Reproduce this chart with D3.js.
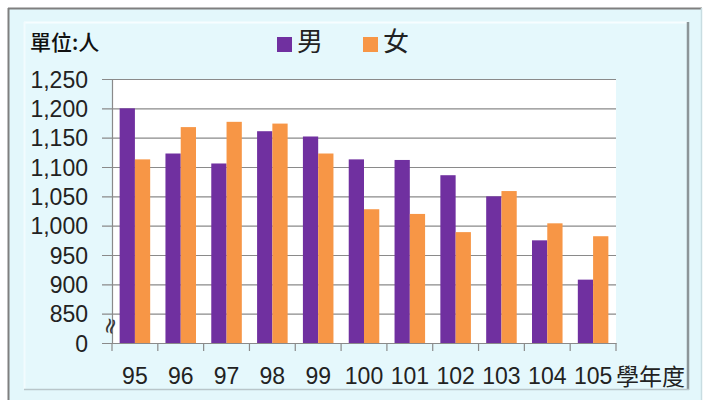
<!DOCTYPE html>
<html><head><meta charset="utf-8">
<script src="https://cdn.jsdelivr.net/npm/d3@7"></script>
<style>
html,body{margin:0;padding:0;background:#fff;}
svg{display:block;}
</style></head>
<body>
<script>
const years = ["95","96","97","98","99","100","101","102","103","104","105"];
const male   = [1200,1123,1106,1161,1152,1113,1112,1086,1050,975,908];
const female = [1113,1168,1177,1174,1123,1028,1020,989,1059,1004,982];
const seriesNames = ["男","女"];
const seriesColors = ["#7030a0","#f79646"];
const yTickValues = [800,850,900,950,1000,1050,1100,1150,1200,1250];
const yTickLabels = ["0","850","900","950","1,000","1,050","1,100","1,150","1,200","1,250"];
const unitLabel = "單位:人";
const xTitle = "學年度";

const W = 706, H = 400;
const svg = d3.select("body").append("svg").attr("width", W).attr("height", H);

// frames
svg.append("rect").attr("x",8).attr("y",8).attr("width",694).attr("height",400).attr("fill","#e3f7fb");
svg.append("line").attr("x1",8).attr("x2",702).attr("y1",8.5).attr("y2",8.5).attr("stroke","#7f7f7f").attr("stroke-width",2);
svg.append("line").attr("x1",8.5).attr("x2",8.5).attr("y1",8).attr("y2",400).attr("stroke","#7f7f7f").attr("stroke-width",2);
svg.append("line").attr("x1",701.5).attr("x2",701.5).attr("y1",8).attr("y2",400).attr("stroke","#c8dde2").attr("stroke-width",1.5);
svg.append("rect").attr("x",24).attr("y",22).attr("width",664).attr("height",367).attr("fill","#e5f8fc");
svg.append("line").attr("x1",24).attr("x2",688).attr("y1",22.5).attr("y2",22.5).attr("stroke","#f7fdff").attr("stroke-width",2);
svg.append("line").attr("x1",24.5).attr("x2",24.5).attr("y1",22).attr("y2",389).attr("stroke","#f2fbfe").attr("stroke-width",2);
svg.append("line").attr("x1",688).attr("x2",688).attr("y1",22).attr("y2",390).attr("stroke","#8c9598").attr("stroke-width",2.5);
svg.append("line").attr("x1",24).attr("x2",689).attr("y1",389.5).attr("y2",389.5).attr("stroke","#b9c6ca").attr("stroke-width",1.5);

const L = 112, R = 616, T = 79, B = 343;
const x0 = d3.scaleBand().domain(years).range([L, R]).padding(0);
const x1 = d3.scaleBand().domain(seriesNames).range([0, x0.bandwidth()]).paddingInner(0).paddingOuter(0.5);
const y = d3.scaleLinear().domain([800, 1250]).range([B, T]);

// plot area
svg.append("rect").attr("x",L).attr("y",T).attr("width",R-L).attr("height",B-T).attr("fill","#ffffff");

// gridlines + y axis
const yAxis = d3.axisLeft(y).tickValues(yTickValues)
  .tickFormat((d,i)=>yTickLabels[i]).tickSize(-(R-L)).tickSizeOuter(0);
const gy = svg.append("g").attr("transform",`translate(${L},0)`).call(yAxis);
gy.select(".domain").attr("stroke","#8a8a8a").attr("stroke-width",1.2);
gy.selectAll(".tick line").attr("stroke","#8a8a8a").attr("stroke-width",1.2).attr("x1",-10);
gy.selectAll(".tick text").attr("font-family","'Liberation Sans', Arial, sans-serif").attr("font-size",23).attr("fill","#222").attr("x",-24).attr("dy","0.36em");

// bars
const data = years.map((yr,i)=>({yr, vals:[male[i], female[i]]}));
const groups = svg.append("g").selectAll("g").data(data).join("g")
  .attr("transform", d=>`translate(${x0(d.yr)},0)`);
groups.selectAll("rect").data(d=>d.vals.map((v,j)=>({v, s:seriesNames[j], c:seriesColors[j]})))
  .join("rect")
  .attr("x", d=>x1(d.s)).attr("width", x1.bandwidth())
  .attr("y", d=>y(d.v)).attr("height", d=>B - y(d.v))
  .attr("fill", d=>d.c);

// x axis
const xAxis = d3.axisBottom(x0).tickSize(0).tickPadding(25);
const gx = svg.append("g").attr("transform",`translate(0,${B})`).call(xAxis);
gx.select(".domain").attr("stroke","#8a8a8a").attr("stroke-width",1.2);
gx.selectAll(".tick text").attr("font-family","'Liberation Sans', Arial, sans-serif").attr("font-size",23).attr("fill","#222");
// boundary ticks
const bounds = years.map(yr=>x0(yr)).concat([R]);
svg.append("g").selectAll("line").data(bounds).join("line")
  .attr("x1",d=>d).attr("x2",d=>d).attr("y1",B).attr("y2",B+8)
  .attr("stroke","#8a8a8a").attr("stroke-width",1.2);

// axis break symbol
svg.append("text").attr("transform",`translate(110,326) rotate(-75)`)
  .attr("text-anchor","middle").attr("dominant-baseline","central")
  .attr("font-family","'DejaVu Sans', sans-serif").attr("font-size",22).attr("fill","#333").text("≈");

// x title
svg.append("text").attr("x",616).attr("y",385)
  .attr("font-family","'Noto Sans CJK TC', sans-serif").attr("font-size",23).attr("fill","#222").text(xTitle);

// unit label
svg.append("text").attr("x",30).attr("y",50)
  .attr("font-family","'Noto Sans CJK TC', sans-serif").attr("font-size",21).attr("font-weight","500").attr("fill","#111").text(unitLabel);

// legend
const legX = [277, 363];
const leg = svg.append("g").selectAll("g").data(seriesNames).join("g")
  .attr("transform",(d,i)=>`translate(${legX[i]},37)`);
leg.append("rect").attr("width",15).attr("height",15).attr("fill",(d,i)=>seriesColors[i]);
leg.append("text").attr("x",20).attr("y",14)
  .attr("font-family","'Noto Sans CJK TC', sans-serif").attr("font-size",26).attr("fill","#222").text(d=>d);
</script>
</body></html>
